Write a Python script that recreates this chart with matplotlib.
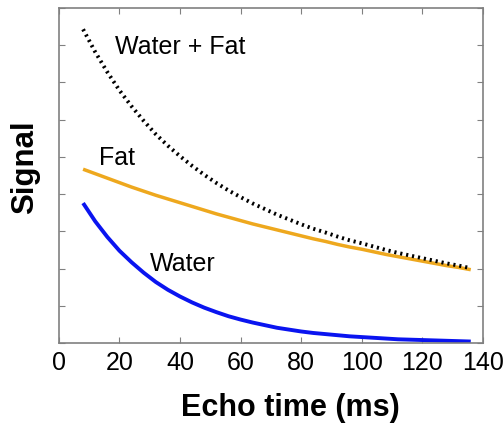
import numpy as np
import matplotlib
matplotlib.use('Agg')
import matplotlib.pyplot as plt

plt.rcParams['font.family'] = ['Liberation Sans', 'DejaVu Sans']

# echo times (ms)
echo_time = [8, 12, 16, 20, 24, 28, 32, 36, 40, 44, 48, 52, 56, 60, 64, 68, 72,
             76, 80, 84, 88, 92, 96, 100, 104, 108, 112, 116, 120, 124, 128, 132, 136]
# signals
water = [3.76, 3.27, 2.85, 2.48, 2.17, 1.89, 1.64, 1.43, 1.25, 1.09, 0.95, 0.83, 0.72,
         0.63, 0.55, 0.48, 0.41, 0.36, 0.31, 0.27, 0.24, 0.21, 0.18, 0.16, 0.14, 0.12,
         0.10, 0.09, 0.08, 0.07, 0.06, 0.05, 0.04]
fat = [4.67, 4.55, 4.43, 4.31, 4.19, 4.08, 3.97, 3.87, 3.77, 3.67, 3.57, 3.47, 3.38,
       3.29, 3.20, 3.12, 3.04, 2.96, 2.88, 2.80, 2.73, 2.65, 2.58, 2.52, 2.45, 2.38,
       2.32, 2.26, 2.20, 2.14, 2.08, 2.03, 1.97]
water_fat = [8.43, 7.82, 7.28, 6.79, 6.36, 5.97, 5.61, 5.30, 5.02, 4.76, 4.52, 4.30, 4.10,
             3.92, 3.75, 3.60, 3.45, 3.32, 3.19, 3.07, 2.97, 2.86, 2.76, 2.68, 2.59, 2.50,
             2.42, 2.35, 2.28, 2.21, 2.14, 2.08, 2.01]

x_ticks = [0, 20, 40, 60, 80, 100, 120, 140]

fig = plt.figure(figsize=(5.03, 4.24), dpi=100)
ax = fig.add_axes([0.117, 0.191, 0.843, 0.790])

ax.plot(echo_time, water, color='#0A14F0', lw=2.8, solid_capstyle='butt')
ax.plot(echo_time, fat, color='#EEA81E', lw=2.5, solid_capstyle='butt')
ax.plot(echo_time, water_fat, color='black', lw=2.8, linestyle=(0, (0.55, 1.0)))

ax.text(18.5, 7.95, 'Water + Fat', fontsize=18, va='center')
ax.text(13.3, 4.97, 'Fat', fontsize=18, va='center')
ax.text(30, 2.13, 'Water', fontsize=18, va='center')

ax.set_xlim(0, 140)
ax.set_ylim(0, 9)
ax.set_xticks(x_ticks)
ax.set_yticks(np.arange(0, 10))
ax.set_yticklabels([])
ax.tick_params(direction='in', top=True, right=True, length=4, color='#808080',
               labelsize=18, pad=6)
for s in ax.spines.values():
    s.set_color('#808080')
    s.set_linewidth(1.2)

ax.set_xlabel('Echo time (ms)', fontsize=22, fontweight='bold')
ax.set_ylabel('Signal', fontsize=22.5, fontweight='bold')
ax.xaxis.set_label_coords(0.545, -0.148)
ax.yaxis.set_label_coords(-0.045, 0.524)

fig.savefig('out.png', dpi=100)
